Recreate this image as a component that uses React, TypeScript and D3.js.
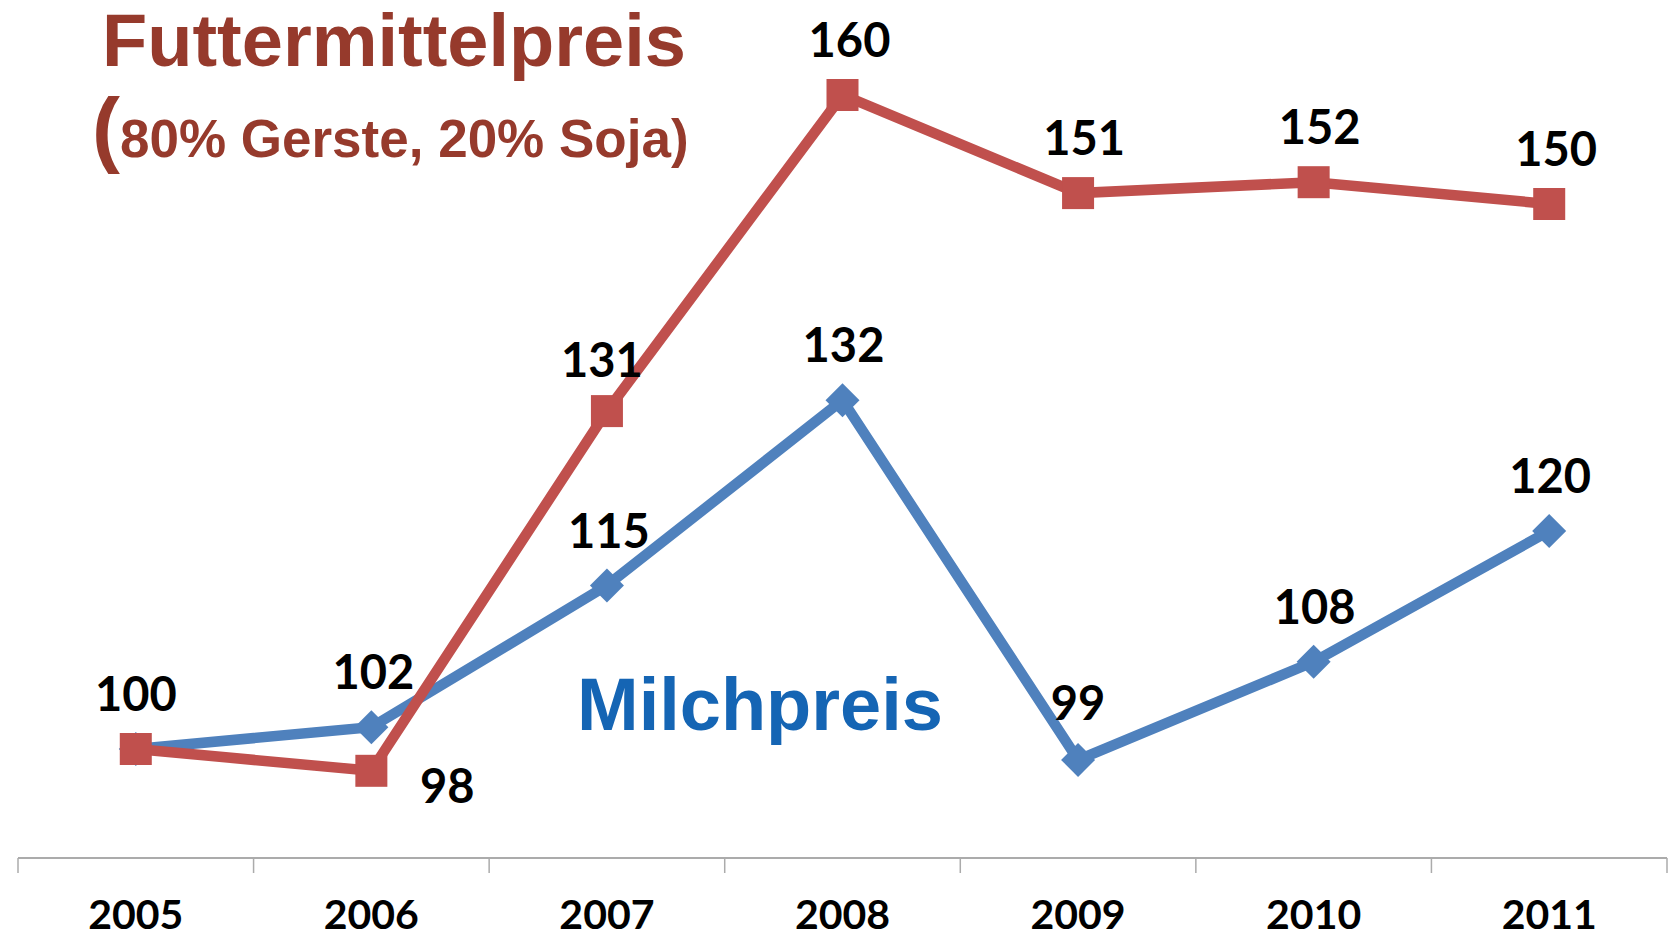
import React from "react";
import * as d3 from "d3";

const years = ["2005", "2006", "2007", "2008", "2009", "2010", "2011"];
const feedPrice = [100, 98, 131, 160, 151, 152, 150];
const milkPrice = [100, 102, 115, 132, 99, 108, 120];
// label placement tweaks (dx, dy in px relative to default "above" position)
const feedLabelShift: [number, number][] = [[0, 0], [76, 70], [-5, 4], [7, 0], [6, 0], [6, 0], [7, 0]];
const milkLabelShift: [number, number][] = [[0, -20], [2, 0], [2, 0], [1, 0], [0, -2], [1, 0], [1, 0]];

const W = 1673;
const H = 937;
const RED = "#C0504D";
const BLUE = "#4F81BD";

export default function App() {
  const x = d3.scaleBand().domain(years).range([18, 1667]).paddingInner(0).paddingOuter(0);
  const y = d3.scaleLinear().domain([90, 160]).range([858, 95]);
  const cx = (i: number) => (x(years[i]) as number) + x.bandwidth() / 2;
  const line = d3
    .line<number>()
    .x((_, i) => cx(i))
    .y((d) => y(d));
  const tickXs = years.map((yr) => x(yr) as number).concat([1667]);
  const numFont = "Lato, 'Open Sans', sans-serif";
  const titleFont = "'Liberation Sans', Arial, sans-serif";
  const sq = 32;
  const dm = 17;

  return (
    <svg width={W} height={H} style={{ position: "absolute", left: 0, top: 0, background: "#fff" }}>
      {/* axis */}
      <line x1={18} x2={1667} y1={858} y2={858} stroke="#ababab" strokeWidth={2} />
      {tickXs.map((t, i) => (
        <line key={i} x1={t} x2={t} y1={858} y2={873} stroke="#ababab" strokeWidth={1.5} />
      ))}
      {years.map((yr, i) => (
        <text key={yr} x={cx(i)} y={929} textAnchor="middle" fontFamily={numFont} fontWeight={700} fontSize={41} fill="#000">
          {yr}
        </text>
      ))}

      {/* milk line */}
      <path d={line(milkPrice) || ""} fill="none" stroke={BLUE} strokeWidth={10.5} strokeLinejoin="miter" />
      {milkPrice.map((v, i) => (
        <path
          key={"m" + i}
          d={`M${cx(i)},${y(v) - dm}L${cx(i) + dm},${y(v)}L${cx(i)},${y(v) + dm}L${cx(i) - dm},${y(v)}Z`}
          fill={BLUE}
        />
      ))}

      {/* feed line */}
      <path d={line(feedPrice) || ""} fill="none" stroke={RED} strokeWidth={10.5} strokeLinejoin="miter" />
      {feedPrice.map((v, i) => (
        <rect key={"f" + i} x={cx(i) - sq / 2} y={y(v) - sq / 2} width={sq} height={sq} fill={RED} />
      ))}

      {/* value labels */}
      {milkPrice.map((v, i) =>
        i === 0 ? null : (
          <text
            key={"ml" + i}
            x={cx(i) + milkLabelShift[i][0]}
            y={y(v) - 38 + milkLabelShift[i][1]}
            textAnchor="middle"
            fontFamily={numFont}
            fontWeight={700}
            fontSize={47}
            fill="#000"
          >
            {v}
          </text>
        )
      )}
      {feedPrice.map((v, i) => (
        <text
          key={"fl" + i}
          x={cx(i) + feedLabelShift[i][0]}
          y={y(v) - 38 + feedLabelShift[i][1]}
          textAnchor="middle"
          fontFamily={numFont}
          fontWeight={700}
          fontSize={47}
          fill="#000"
        >
          {v}
        </text>
      ))}

      {/* titles */}
      <text x={394} y={66} textAnchor="middle" fontFamily={titleFont} fontWeight={700} fontSize={74} fill="#963A2C">
        Futtermittelpreis
      </text>
      <text x={92} y={157} fontFamily={titleFont} fontWeight={700} fill="#963A2C">
        <tspan fontSize={84}>(</tspan>
        <tspan fontSize={53}>80% Gerste, 20% Soja)</tspan>
      </text>
      <text x={760} y={730} textAnchor="middle" fontFamily={titleFont} fontWeight={700} fontSize={74} fill="#1565B4">
        Milchpreis
      </text>
    </svg>
  );
}
